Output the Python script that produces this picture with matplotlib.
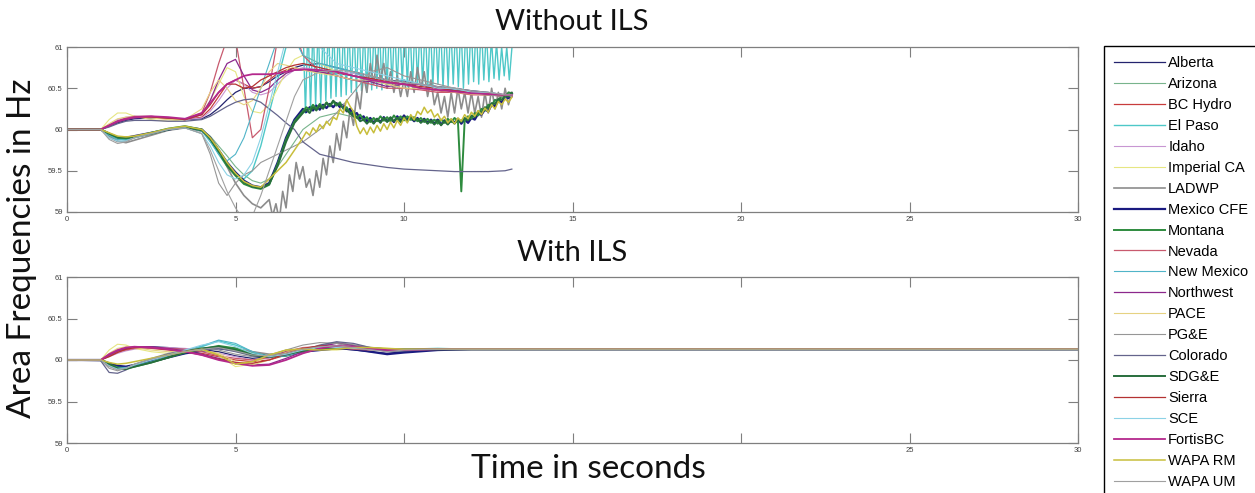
import numpy as np
import matplotlib
matplotlib.use("Agg")
import matplotlib.pyplot as plt

plt.rcParams.update({
    "font.family": ["Liberation Sans", "DejaVu Sans"],
    "xtick.direction": "in",
    "ytick.direction": "in",
    "xtick.top": True,
    "ytick.right": True,
})

NAMES = ["Alberta", "Arizona", "BC Hydro", "El Paso", "Idaho", "Imperial CA",
         "LADWP", "Mexico CFE", "Montana", "Nevada", "New Mexico", "Northwest",
         "PACE", "PG&E", "Colorado", "SDG&E", "Sierra", "SCE", "FortisBC",
         "WAPA RM", "WAPA UM"]

COLORS = ["#23236e", "#78b48c", "#c83c3c", "#4ec8c8", "#c896d2", "#e6e682",
          "#8c8c8c", "#1a1a80", "#2e8b3e", "#c85a6e", "#50b4c8", "#8c288c",
          "#e6d282", "#969696", "#64648c", "#286e3c", "#b43232", "#8cd2e6",
          "#b4288c", "#c8be3c", "#a0a0a0"]

WIDTHS = [0.9, 0.8, 0.9, 1.0, 0.8, 0.8, 1.2, 1.6, 1.4, 0.9, 0.8, 0.9,
          0.8, 0.8, 0.9, 1.4, 0.9, 0.8, 1.3, 1.1, 0.8]

# ---------------- Without ILS: coarse samples ----------------
T_TOP = [0, 1, 1.25, 1.5, 1.75, 2, 2.5, 3, 3.5, 4, 4.25, 4.5, 4.75, 5, 5.25,
         5.5, 5.75, 6, 6.25, 6.5, 6.75, 7, 7.5, 8, 8.5, 9, 9.5, 10, 10.5, 11,
         11.5, 12, 12.5, 13, 13.2]

top_alberta = [60, 60, 60.04, 60.08, 60.11, 60.13, 60.14, 60.14, 60.12, 60.13,
               60.18, 60.26, 60.36, 60.45, 60.5, 60.5, 60.52, 60.58, 60.65, 60.7,
               60.75, 60.78, 60.8, 60.75, 60.7, 60.65, 60.6, 60.58, 60.55, 60.52,
               60.5, 60.47, 60.45, 60.42, 60.4]
top_arizona = [60, 60, 59.94, 59.9, 59.89, 59.9, 59.95, 60.0, 60.03, 60.0,
               59.92, 59.8, 59.68, 59.55, 59.45, 59.38, 59.35, 59.4, 59.55, 59.7,
               59.85, 60.0, 60.15, 60.2, 60.15, 60.12, 60.1, 60.12, 60.1, 60.12,
               60.1, 60.15, 60.25, 60.4, 60.45]
top_bc_hydro = [60, 60, 60.05, 60.1, 60.13, 60.15, 60.15, 60.13, 60.12, 60.15,
                60.25, 60.4, 60.55, 60.6, 60.55, 60.5, 60.52, 60.6, 60.68, 60.72,
                60.75, 60.72, 60.7, 60.68, 60.65, 60.6, 60.55, 60.55, 60.5, 60.47,
                60.45, 60.43, 60.42, 60.42, 60.42]
top_el_paso = [60, 60, 59.93, 59.88, 59.88, 59.9, 59.95, 60.0, 60.03, 59.98,
               59.88, 59.7, 59.55, 59.45, 59.4, 59.5, 59.8, 60.2, 60.6, 61.0,
               61.3]
top_idaho = [60, 60, 60.06, 60.12, 60.15, 60.16, 60.16, 60.14, 60.12, 60.14,
             60.22, 60.35, 60.5, 60.6, 60.55, 60.45, 60.42, 60.45, 60.55, 60.65,
             60.72, 60.75, 60.72, 60.7, 60.68, 60.62, 60.58, 60.55, 60.55, 60.5,
             60.48, 60.45, 60.42, 60.4, 60.4]
top_imperial = [60, 60, 60.12, 60.2, 60.2, 60.16, 60.12, 60.1, 60.12, 60.2,
                60.35, 60.55, 60.75, 60.7, 60.4, 60.22, 60.2, 60.3, 60.5, 60.7,
                60.85, 60.9, 60.8, 60.7, 60.65, 60.6, 60.55, 60.55, 60.5, 60.48,
                60.45, 60.43, 60.42, 60.4, 60.4]
top_ladwp = [60, 60, 59.92, 59.86, 59.84, 59.87, 59.93, 59.99, 60.02, 59.98,
             59.9, 59.75, 59.55, 59.35, 59.2, 59.1, 59.05]
top_mexico = [60, 60, 59.95, 59.9, 59.9, 59.92, 59.96, 60.0, 60.03, 60.0,
              59.9, 59.75, 59.6, 59.48, 59.38, 59.32, 59.3, 59.35, 59.6, 59.9,
              60.12]
top_montana = [60, 60, 59.94, 59.9, 59.89, 59.91, 59.96, 60.01, 60.04, 60.0,
               59.88, 59.72, 59.56, 59.44, 59.34, 59.3, 59.28, 59.33, 59.58, 59.88,
               60.1]
top_nevada = [60, 60, 60.05, 60.1, 60.14, 60.16, 60.16, 60.14, 60.12, 60.2,
              60.45, 60.8, 61.1, 61.1, 60.5, 59.9, 60.0, 60.5, 61.1, 61.4,
              61.2, 60.9, 60.7, 60.65, 60.6, 60.55, 60.5, 60.5, 60.48, 60.45,
              60.45, 60.42, 60.42, 60.4, 60.4]
top_new_mexico = [60, 60, 59.93, 59.88, 59.87, 59.9, 59.95, 60.0, 60.03, 59.98,
                  59.85, 59.7, 59.62, 59.7, 59.9, 60.2, 60.5, 60.8, 61.1, 61.3,
                  61.1, 60.9, 60.8, 60.75, 60.7, 60.6, 60.55, 60.6, 60.55, 60.5,
                  60.48, 60.45, 60.43, 60.42, 60.42]
top_northwest = [60, 60, 60.04, 60.09, 60.12, 60.14, 60.15, 60.14, 60.12, 60.18,
                 60.35, 60.6, 60.8, 60.85, 60.65, 60.48, 60.45, 60.5, 60.6, 60.68,
                 60.72, 60.72, 60.7, 60.65, 60.6, 60.58, 60.52, 60.55, 60.55, 60.5,
                 60.47, 60.45, 60.42, 60.42, 60.4]
top_pace = [60, 60, 60.07, 60.13, 60.15, 60.15, 60.14, 60.12, 60.12, 60.25,
            60.45, 60.6, 60.5, 60.35, 60.3, 60.35, 60.5, 60.7, 60.8, 60.78,
            60.75, 60.72, 60.68, 60.65, 60.6, 60.6, 60.55, 60.5, 60.5, 60.48,
            60.45, 60.43, 60.42, 60.42, 60.42]
top_pge = [60, 60, 59.9, 59.85, 59.86, 59.9, 59.95, 60.0, 60.02, 59.95,
           59.7, 59.35, 59.2, 59.35, 59.45, 59.5, 59.6, 59.65, 59.7, 59.75,
           59.8, 59.85, 60.0, 60.2, 60.45, 60.7, 60.75, 60.65, 60.6, 60.55,
           60.5, 60.45, 60.42, 60.4, 60.4]
top_colorado = [60, 60, 60.03, 60.07, 60.1, 60.11, 60.11, 60.1, 60.1, 60.12,
                60.16, 60.22, 60.28, 60.33, 60.36, 60.37, 60.33, 60.25, 60.17, 60.08,
                60.0, 59.85, 59.7, 59.65, 59.6, 59.57, 59.54, 59.52, 59.51, 59.5,
                59.49, 59.49, 59.49, 59.5, 59.52]
top_sdge = [60, 60, 59.95, 59.91, 59.9, 59.91, 59.95, 60.0, 60.03, 59.99,
            59.89, 59.74, 59.58, 59.46, 59.36, 59.31, 59.29, 59.34, 59.56, 59.85,
            60.08]
top_sierra = [60, 60, 60.05, 60.1, 60.13, 60.15, 60.15, 60.14, 60.12, 60.18,
              60.3, 60.45, 60.55, 60.55, 60.5, 60.52, 60.6, 60.65, 60.7, 60.75,
              60.78, 60.8, 60.75, 60.7, 60.65, 60.62, 60.58, 60.55, 60.52, 60.5,
              60.47, 60.45, 60.43, 60.42, 60.42]
top_sce = [60, 60, 59.9, 59.86, 59.86, 59.9, 59.95, 60.0, 60.02, 59.95,
           59.8, 59.6, 59.45, 59.4, 59.45, 59.6, 59.9, 60.3, 60.7, 61.1,
           61.3, 61.2, 61.0, 60.8, 60.75, 60.7, 60.65, 60.6, 60.55, 60.5,
           60.5, 60.45, 60.45, 60.42, 60.42]
top_fortis = [60, 60, 60.05, 60.1, 60.13, 60.15, 60.16, 60.15, 60.13, 60.2,
              60.32, 60.45, 60.55, 60.6, 60.65, 60.67, 60.67, 60.67, 60.68, 60.7,
              60.72, 60.73, 60.72, 60.7, 60.65, 60.6, 60.57, 60.55, 60.5, 60.48,
              60.46, 60.44, 60.43, 60.42, 60.42]
top_wapa_rm = [60, 60, 59.96, 59.92, 59.91, 59.92, 59.96, 60.01, 60.04, 60.0,
               59.9, 59.76, 59.6, 59.47, 59.37, 59.32, 59.3, 59.4, 59.5, 59.6,
               59.75]
top_wapa_um = [60, 60, 59.88, 59.83, 59.85, 59.9, 59.95, 60.0, 60.02, 59.95,
               59.75, 59.5, 59.25, 59.05, 58.9, 58.95, 59.2, 59.5, 59.8, 60.1,
               60.4, 60.6, 60.7, 60.72, 60.7, 60.65, 60.6, 60.57, 60.55, 60.52,
               60.5, 60.47, 60.45, 60.42, 60.42]

# ---------------- Without ILS: fast oscillating parts ----------------
T_FINE = np.linspace(7.0, 13.2, 63)
T_LADWP = np.linspace(6.0, 13.2, 73)
T_TEETH = np.linspace(7.0, 13.2, 83)

el_paso_teeth = [
    61.3, 60.2, 61.3, 60.25, 61.3, 60.3, 61.3, 60.3, 61.3, 60.35,
    61.3, 60.38, 61.3, 60.4, 61.3, 60.4, 61.3, 60.42, 61.3, 60.45,
    61.3, 60.45, 61.3, 60.47, 61.3, 60.45, 61.3, 60.48, 61.3, 60.5,
    61.3, 60.48, 61.3, 60.5, 61.3, 60.52, 61.3, 60.5, 61.3, 60.55,
    61.3, 60.52, 61.3, 60.5, 61.3, 60.55, 61.3, 60.53, 61.3, 60.5,
    61.3, 60.52, 61.3, 60.55, 61.3, 60.5, 61.3, 60.53, 61.3, 60.55,
    61.3, 60.52, 61.3, 60.5, 61.3, 60.55, 61.3, 60.58, 61.3, 60.55,
    61.3, 60.6, 61.2, 60.58, 61.1, 60.62, 61.05, 60.6, 61.0, 60.65,
    61.0, 60.6, 60.98]
ladwp_osc = [
    59.15, 58.95, 59.1, 58.9, 59.25, 59.05, 59.45, 59.25, 59.6, 59.4,
    59.55, 59.3, 59.4, 59.2, 59.5, 59.3, 59.65, 59.45, 59.8, 59.6,
    59.95, 59.75, 60.1, 59.9, 60.25, 60.05, 60.45, 60.25, 60.65, 60.45,
    60.8, 60.55, 60.9, 60.6, 60.8, 60.5, 60.7, 60.45, 60.65, 60.4,
    60.6, 60.4, 60.7, 60.45, 60.75, 60.5, 60.7, 60.4, 60.6, 60.3,
    60.45, 60.2, 60.4, 60.15, 60.45, 60.2, 60.5, 60.25, 60.45, 60.2,
    60.45, 60.2, 60.4, 60.15, 60.45, 60.2, 60.5, 60.25, 60.45, 60.25,
    60.5, 60.3, 60.45]
mexico_noise = [
    60.25, 60.21, 60.27, 60.23, 60.29, 60.24, 60.3, 60.26, 60.31, 60.27,
    60.32, 60.27, 60.3, 60.22, 60.25, 60.17, 60.2, 60.13, 60.16, 60.1,
    60.14, 60.08, 60.13, 60.09, 60.15, 60.1, 60.14, 60.09, 60.16, 60.11,
    60.17, 60.12, 60.15, 60.1, 60.14, 60.09, 60.13, 60.08, 60.12, 60.07,
    60.12, 60.06, 60.11, 60.07, 60.12, 60.08, 60.13, 60.07, 60.12, 60.08,
    60.14, 60.12, 60.19, 60.18, 60.24, 60.22, 60.3, 60.28, 60.35, 60.33,
    60.4, 60.38, 60.43]
montana_noise = [
    60.22, 60.27, 60.24, 60.3, 60.25, 60.31, 60.27, 60.33, 60.28, 60.34,
    60.29, 60.33, 60.25, 60.27, 60.19, 60.22, 60.14, 60.18, 60.11, 60.15,
    60.09, 60.14, 60.1, 60.16, 60.11, 60.15, 60.1, 60.17, 60.12, 60.16,
    60.11, 60.16, 60.12, 60.15, 60.1, 60.14, 60.09, 60.13, 60.08, 60.12,
    60.07, 60.12, 60.08, 60.13, 60.09, 60.14, 60.1, 59.25, 60.11, 60.16,
    60.13, 60.2, 60.17, 60.25, 60.23, 60.3, 60.29, 60.36, 60.34, 60.41,
    60.39, 60.45, 60.44]
sdge_noise = [
    60.2, 60.24, 60.2, 60.27, 60.23, 60.29, 60.25, 60.32, 60.29, 60.35,
    60.31, 60.3, 60.26, 60.23, 60.2, 60.16, 60.15, 60.1, 60.12, 60.07,
    60.12, 60.07, 60.13, 60.08, 60.14, 60.09, 60.15, 60.1, 60.14, 60.09,
    60.15, 60.1, 60.16, 60.11, 60.13, 60.08, 60.12, 60.07, 60.11, 60.06,
    60.11, 60.05, 60.1, 60.06, 60.11, 60.07, 60.12, 60.09, 60.14, 60.11,
    60.17, 60.15, 60.22, 60.2, 60.27, 60.26, 60.32, 60.31, 60.37, 60.36,
    60.41, 60.4, 60.44]
wapa_rm_noise = [
    59.9, 59.97, 59.93, 60.02, 59.97, 60.06, 60.01, 60.1, 60.05, 60.15,
    60.12, 60.25, 60.2, 60.36, 60.28, 60.22, 60.04, 59.95, 60.02, 59.94,
    60.03, 59.96, 60.05, 59.98, 60.07, 60.0, 60.09, 60.02, 60.11, 60.05,
    60.14, 60.08, 60.18, 60.12, 60.22, 60.18, 60.27, 60.2, 60.24, 60.15,
    60.19, 60.11, 60.16, 60.08, 60.13, 60.07, 60.14, 60.1, 60.18, 60.13,
    60.21, 60.16, 60.23, 60.18, 60.26, 60.21, 60.3, 60.25, 60.34, 60.3,
    60.37, 60.33, 60.39]

TOP_COARSE = [top_alberta, top_arizona, top_bc_hydro, top_el_paso, top_idaho,
              top_imperial, top_ladwp, top_mexico, top_montana, top_nevada,
              top_new_mexico, top_northwest, top_pace, top_pge, top_colorado,
              top_sdge, top_sierra, top_sce, top_fortis, top_wapa_rm, top_wapa_um]
TOP_FAST = {
    "El Paso": (T_TEETH, el_paso_teeth),
    "LADWP": (T_LADWP, ladwp_osc),
    "Mexico CFE": (T_FINE, mexico_noise),
    "Montana": (T_FINE, montana_noise),
    "SDG&E": (T_FINE, sdge_noise),
    "WAPA RM": (T_FINE, wapa_rm_noise),
}

# ---------------- With ILS ----------------
T_BOT = [0, 1, 1.25, 1.5, 1.75, 2, 2.5, 3, 3.5, 4, 4.5, 5, 5.5, 6, 6.5, 7,
         7.5, 8, 8.5, 9, 9.5, 10, 11, 12, 14, 30]

bot_alberta = [60, 60, 60.05, 60.1, 60.13, 60.15, 60.16, 60.15, 60.13, 60.12,
               60.1, 60.05, 60.02, 60.04, 60.1, 60.14, 60.16, 60.14, 60.12, 60.1,
               60.08, 60.1, 60.13, 60.13, 60.13, 60.13]
bot_arizona = [60, 60, 59.95, 59.92, 59.92, 59.94, 59.98, 60.03, 60.08, 60.12,
               60.16, 60.12, 60.06, 60.03, 60.07, 60.12, 60.15, 60.15, 60.14, 60.14,
               60.13, 60.13, 60.13, 60.13, 60.13, 60.13]
bot_bc_hydro = [60, 60, 60.06, 60.11, 60.14, 60.15, 60.14, 60.12, 60.1, 60.08,
                60.04, 60.0, 59.98, 60.0, 60.06, 60.12, 60.16, 60.17, 60.15, 60.13,
                60.12, 60.12, 60.13, 60.13, 60.13, 60.13]
bot_el_paso = [60, 60, 59.94, 59.9, 59.9, 59.93, 59.98, 60.04, 60.1, 60.16,
               60.23, 60.18, 60.1, 60.05, 60.06, 60.1, 60.14, 60.16, 60.15, 60.14,
               60.13, 60.13, 60.14, 60.13, 60.13, 60.13]
bot_idaho = [60, 60, 60.04, 60.08, 60.11, 60.13, 60.15, 60.15, 60.14, 60.12,
             60.08, 60.04, 60.0, 60.02, 60.08, 60.13, 60.15, 60.15, 60.14, 60.13,
             60.12, 60.13, 60.13, 60.13, 60.13, 60.13]
bot_imperial = [60, 60, 60.12, 60.19, 60.18, 60.14, 60.1, 60.08, 60.1, 60.12,
                60.05, 59.92, 59.95, 60.05, 60.12, 60.14, 60.13, 60.12, 60.14, 60.15,
                60.14, 60.13, 60.13, 60.13, 60.13, 60.13]
bot_ladwp = [60, 60, 59.93, 59.9, 59.91, 59.94, 59.99, 60.04, 60.08, 60.12,
             60.15, 60.14, 60.1, 60.07, 60.08, 60.12, 60.17, 60.21, 60.18, 60.15,
             60.13, 60.13, 60.13, 60.13, 60.13, 60.13]
bot_mexico = [60, 60, 59.96, 59.93, 59.92, 59.94, 59.98, 60.03, 60.08, 60.11,
              60.14, 60.12, 60.07, 60.04, 60.06, 60.1, 60.12, 60.14, 60.13, 60.1,
              60.07, 60.09, 60.12, 60.13, 60.13, 60.13]
bot_montana = [60, 60, 59.95, 59.91, 59.9, 59.92, 59.97, 60.03, 60.09, 60.13,
               60.17, 60.14, 60.08, 60.04, 60.05, 60.1, 60.14, 60.16, 60.15, 60.14,
               60.13, 60.13, 60.13, 60.13, 60.13, 60.13]
bot_nevada = [60, 60, 60.05, 60.1, 60.12, 60.14, 60.15, 60.14, 60.13, 60.1,
              60.05, 60.02, 60.0, 60.03, 60.1, 60.15, 60.16, 60.15, 60.13, 60.12,
              60.13, 60.13, 60.13, 60.13, 60.13, 60.13]
bot_new_mexico = [60, 60, 59.94, 59.91, 59.91, 59.93, 59.98, 60.05, 60.11, 60.17,
                  60.24, 60.2, 60.1, 60.04, 60.05, 60.1, 60.15, 60.17, 60.15, 60.13,
                  60.13, 60.13, 60.13, 60.13, 60.13, 60.13]
bot_northwest = [60, 60, 60.06, 60.11, 60.14, 60.16, 60.16, 60.14, 60.11, 60.07,
                 60.02, 59.97, 59.94, 59.95, 60.02, 60.1, 60.16, 60.2, 60.17, 60.13,
                 60.11, 60.12, 60.13, 60.13, 60.13, 60.13]
bot_pace = [60, 60, 60.08, 60.14, 60.16, 60.15, 60.12, 60.1, 60.11, 60.12,
            60.08, 59.98, 59.94, 60.0, 60.09, 60.14, 60.15, 60.14, 60.14, 60.14,
            60.13, 60.13, 60.13, 60.13, 60.13, 60.13]
bot_pge = [60, 60, 59.9, 59.87, 59.9, 59.95, 60.02, 60.08, 60.12, 60.14,
           60.12, 60.07, 60.04, 60.06, 60.12, 60.18, 60.21, 60.2, 60.16, 60.13,
           60.12, 60.13, 60.13, 60.13, 60.13, 60.13]
bot_colorado = [60, 59.99, 59.85, 59.84, 59.88, 59.94, 60.01, 60.07, 60.11, 60.13,
                60.14, 60.1, 60.05, 60.03, 60.06, 60.12, 60.18, 60.22, 60.2, 60.15,
                60.1, 60.11, 60.13, 60.13, 60.13, 60.13]
bot_sdge = [60, 60, 59.95, 59.9, 59.89, 59.92, 59.97, 60.03, 60.1, 60.14,
            60.16, 60.12, 60.06, 60.04, 60.07, 60.11, 60.14, 60.15, 60.15, 60.14,
            60.13, 60.13, 60.13, 60.13, 60.13, 60.13]
bot_sierra = [60, 60, 60.04, 60.09, 60.13, 60.15, 60.15, 60.13, 60.1, 60.06,
              60.01, 59.97, 59.96, 60.0, 60.08, 60.14, 60.17, 60.16, 60.14, 60.13,
              60.13, 60.13, 60.13, 60.13, 60.13, 60.13]
bot_sce = [60, 60, 59.93, 59.89, 59.9, 59.94, 60.0, 60.06, 60.12, 60.18,
           60.22, 60.16, 60.08, 60.04, 60.07, 60.12, 60.15, 60.15, 60.14, 60.13,
           60.13, 60.13, 60.13, 60.13, 60.13, 60.13]
bot_fortis = [60, 60, 60.07, 60.12, 60.15, 60.16, 60.15, 60.13, 60.1, 60.06,
              60.0, 59.96, 59.93, 59.94, 60.0, 60.08, 60.14, 60.17, 60.16, 60.14,
              60.12, 60.12, 60.13, 60.13, 60.13, 60.13]
bot_wapa_rm = [60, 60, 59.97, 59.95, 59.96, 59.98, 60.02, 60.06, 60.1, 60.13,
               60.06, 59.95, 59.98, 60.06, 60.12, 60.13, 60.12, 60.13, 60.15, 60.15,
               60.14, 60.13, 60.13, 60.13, 60.13, 60.13]
bot_wapa_um = [60, 60, 59.92, 59.88, 59.9, 59.95, 60.01, 60.06, 60.1, 60.13,
               60.15, 60.11, 60.06, 60.05, 60.08, 60.13, 60.16, 60.17, 60.15, 60.12,
               60.1, 60.12, 60.13, 60.13, 60.13, 60.13]

BOT_VALUES = [bot_alberta, bot_arizona, bot_bc_hydro, bot_el_paso, bot_idaho,
              bot_imperial, bot_ladwp, bot_mexico, bot_montana, bot_nevada,
              bot_new_mexico, bot_northwest, bot_pace, bot_pge, bot_colorado,
              bot_sdge, bot_sierra, bot_sce, bot_fortis, bot_wapa_rm, bot_wapa_um]

Y_TICKS = [59, 59.5, 60, 60.5, 61]
Y_TICKLABELS = ["59", "59.5", "60", "60.5", "61"]
X_TICKS = [0, 5, 10, 15, 20, 25, 30]
TOP_XLABELS = ["0", "5", "10", "15", "20", "25", "30"]
BOT_XLABELS = ["0", "5", "", "", "", "25", "30"]

W, H = 1255, 493
fig = plt.figure(figsize=(W / 100, H / 100), dpi=100)
ax_top = fig.add_axes([67 / W, 1 - 212 / H, 1011 / W, 165 / H])
ax_bot = fig.add_axes([67 / W, 1 - 443 / H, 1011 / W, 166 / H])

handles = []
for name, color, lw, coarse, bot in zip(NAMES, COLORS, WIDTHS, TOP_COARSE, BOT_VALUES):
    t = np.asarray(T_TOP[:len(coarse)], dtype=float)
    y = np.asarray(coarse, dtype=float)
    if name in TOP_FAST:
        ft, fy = TOP_FAST[name]
        t = np.concatenate([t, ft])
        y = np.concatenate([y, fy])
    (h,) = ax_top.plot(t, y, color=color, lw=lw, label=name)
    handles.append(h)
    ax_bot.plot(T_BOT, bot, color=color, lw=lw)

for ax, xl in ((ax_top, TOP_XLABELS), (ax_bot, BOT_XLABELS)):
    ax.set_xlim(0, 30)
    ax.set_ylim(59, 61)
    ax.set_xticks(X_TICKS)
    ax.set_xticklabels(xl)
    ax.set_yticks(Y_TICKS)
    ax.set_yticklabels(Y_TICKLABELS)
    ax.tick_params(length=7, width=0.8, color="#7f7f7f", labelsize=5.5,
                   labelcolor="#404040", pad=3)
    for s in ax.spines.values():
        s.set_color("#7f7f7f")
        s.set_linewidth(0.9)

big = dict(family=["Lato", "DejaVu Sans"], color="#111111")
fig.text(572 / W, 1 - 22 / H, "Without ILS", ha="center", va="center", fontsize=21, **big)
fig.text(572 / W, 1 - 253 / H, "With ILS", ha="center", va="center", fontsize=21, **big)
fig.text(588 / W, 1 - 469 / H, "Time in seconds", ha="center", va="center",
         fontsize=24, **big)
fig.text(22 / W, 1 - 248 / H, "Area Frequencies in Hz", ha="center", va="center",
         rotation=90, fontsize=24, **big)

leg = fig.legend(handles, NAMES, loc="upper left", bbox_to_anchor=(1104 / W, 1 - 46 / H),
                 frameon=True, fancybox=False, edgecolor="black", framealpha=1,
                 handlelength=3.5, handletextpad=0.2, labelspacing=0.475,
                 borderpad=0.7, borderaxespad=0, prop={"size": 10.5})
leg.get_frame().set_linewidth(1.0)

fig.savefig("out.png", dpi=100)
